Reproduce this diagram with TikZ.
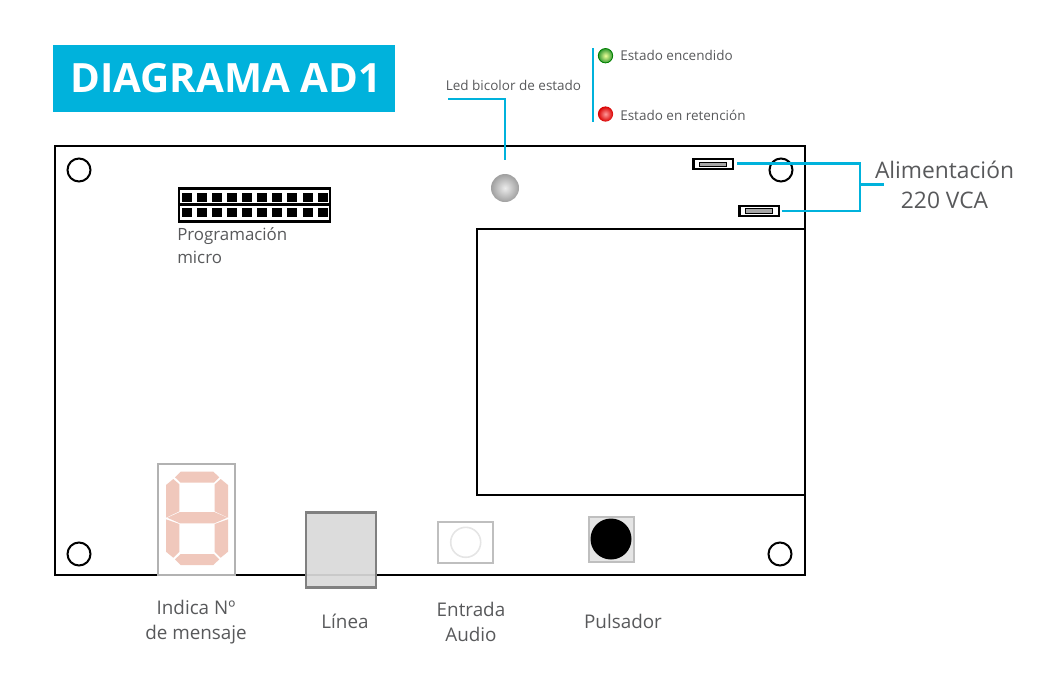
\documentclass[tikz,border=0pt]{standalone}
\usepackage{fontspec}
\setmainfont{Open Sans}
\usetikzlibrary{positioning}
\definecolor{cyanad}{HTML}{00B2DC}
\definecolor{textad}{HTML}{58595B}
\definecolor{segad}{HTML}{F0C8BC}
\tikzset{
  cable/.style={cyanad,line width=0.06cm},
  hole/.style={circle,draw=black,line width=0.05cm,fill=white,minimum size=0.575cm,inner sep=0pt},
  label/.style={text=textad,font=\fontsize{13.4}{17.7}\selectfont,align=center,inner sep=0pt},
  small/.style={text=textad,font=\fontsize{9.6}{12}\selectfont,inner sep=0pt},
  conn/.style={draw=black,line width=0.055cm,fill=white,minimum width=0.98cm,minimum height=0.25cm,inner sep=0pt},
  conninner/.style={draw=black,line width=0.025cm,fill=black!35,minimum width=0.66cm,minimum height=0.12cm,inner sep=0pt},
  headerrow/.style={draw=black,line width=0.065cm,fill=white,minimum width=3.78cm,minimum height=0.41cm,inner sep=0pt},
  pin/.style={fill=black,minimum width=0.25cm,minimum height=0.225cm,inner sep=0pt},
  seg/.style={fill=segad}
}
\begin{document}
\begin{tikzpicture}[x=0.025cm,y=-0.025cm]
\useasboundingbox (0,0) rectangle (1062,679);
\node[draw=black,line width=0.05cm,minimum width=18.75cm,minimum height=10.725cm,inner sep=0pt] (board) at (430,360.5) {};
\node[draw=black,line width=0.05cm,minimum width=8.2cm,minimum height=6.65cm,inner sep=0pt] (relay) at (641,362) {};
\node[hole] (hole1) at (79,170) {};
\node[hole] (hole2) at (781,170) {};
\node[hole] (hole3) at (79,554) {};
\node[hole] (hole4) at (780,554) {};
\node[fill=cyanad,minimum width=8.55cm,minimum height=1.675cm,inner sep=0pt] (title) at (224,78.5) {};
\node[text=white,font=\fontsize{28.7}{32}\bfseries\selectfont,inner sep=0pt] (titletext) at (226,78.5) {DIAGRAMA AD1};
\node[headerrow] (row1) at (254.5,196.5) {};
\node[headerrow] (row2) at (254.5,213) {};
\foreach \i in {0,...,9} {
  \node[pin] (pina\i) at (186.7+15.1*\i,197) {};
  \node[pin] (pinb\i) at (186.7+15.1*\i,212.6) {};
}
\node[label,font=\fontsize{12}{16.3}\selectfont,align=left,anchor=west] (prog) at (177,245.5) {Programación\\micro};
\node[circle,shade,inner color=gray!15,outer color=gray!75,minimum size=0.7cm,inner sep=0pt] (led) at (505,188) {};
\node[small] (ledlabel) at (513.5,85.5) {Led bicolor de estado};
\coordinate (ledstart) at (448,99);
\draw[cable,shorten >=10pt] (ledstart) -| (led.north);
\coordinate (bartop) at (593,48);
\coordinate (barbottom) at (593,122);
\draw[cable] (bartop) -- (barbottom);
\node[circle,draw=green!50!black,line width=0.02cm,shade,inner color=green!15!yellow!40,outer color=green!50!black!80,minimum size=0.36cm,inner sep=0pt] (ledgreen) at (605.5,55.7) {};
\node[circle,shade,inner color=red!40,outer color=red!85!black,minimum size=0.38cm,inner sep=0pt] (ledred) at (605.5,114) {};
\node[small,anchor=west] (green) at (620,55) {Estado encendido};
\node[small,anchor=west] (red) at (620,115) {Estado en retención};
\node[conn] (conn1) at (713,164.3) {};
\node[conninner] at (713,164.5) (inner1) {};
\node[conn] (conn2) at (759,210.7) {};
\node[conninner] at (759,211) (inner2) {};
\coordinate (bus) at (860,184.5);
\coordinate (alimend) at (884,184.5);
\coordinate (conn1end) at (737,163.4);
\coordinate (conn2end) at (781.5,211);
\draw[cable] (conn1end) -| (bus);
\draw[cable] (conn2end) -| (bus);
\draw[cable] (bus) -- (alimend);
\node[label,font=\fontsize{16.2}{21.5}\selectfont] (alim) at (944.5,185) {Alimentación\\220 VCA};
\node[draw=gray!60,line width=0.05cm,fill=white,minimum width=1.9cm,minimum height=2.775cm,inner sep=0pt] (display) at (196.5,519.5) {};
\fill[seg] (175,477.3) -- (180.7,471.7) -- (213.3,471.7) -- (219.3,477.3) -- (214,482.7) -- (180.7,482.7) -- cycle;
\fill[seg] (166,485) -- (173.3,479) -- (179.3,484.3) -- (179.3,511.3) -- (166,517.7) -- cycle;
\fill[seg] (228,485) -- (220.7,479) -- (214.7,484.3) -- (214.7,511.3) -- (228,517.7) -- cycle;
\fill[seg] (167.3,517.7) -- (180,512) -- (214.3,512) -- (227.3,517.7) -- (214.3,523.3) -- (180,523.3) -- cycle;
\fill[seg] (166,519.3) -- (179.3,524) -- (179.3,551.7) -- (173.3,557.7) -- (166,551.7) -- cycle;
\fill[seg] (228,519.3) -- (214.7,524) -- (214.7,551.7) -- (220.7,557.7) -- (228,551.7) -- cycle;
\fill[seg] (175,559.3) -- (180.7,554) -- (214,554) -- (219.3,559.3) -- (213.3,565) -- (180.7,565) -- cycle;
\node[draw=black!50,line width=0.065cm,fill=black!15,fill opacity=0.93,minimum width=1.75cm,minimum height=1.885cm,inner sep=0pt] (line) at (341,550) {};
\node[draw=black!25,line width=0.05cm,minimum width=1.39cm,minimum height=1.025cm,inner sep=0pt] (audio) at (465.5,542.5) {};
\node[circle,draw=black!10,line width=0.04cm,minimum size=0.75cm,inner sep=0pt] (audiojack) at (465.7,542.3) {};
\node[draw=black!25,line width=0.05cm,fill=black!10,minimum width=1.125cm,minimum height=1.125cm,inner sep=0pt] (button) at (611,539) {};
\node[circle,fill=black,minimum size=1.025cm,inner sep=0pt] (buttoncap) at (611,539) {};
\node[label] (msg) at (196,622.5) {Indica Nº\\de mensaje};
\node[label] (linea) at (345,621.2) {Línea};
\node[label] (entrada) at (471,621.5) {Entrada\\Audio};
\node[label] (pulsador) at (623,621.2) {Pulsador};
\end{tikzpicture}
\end{document}
